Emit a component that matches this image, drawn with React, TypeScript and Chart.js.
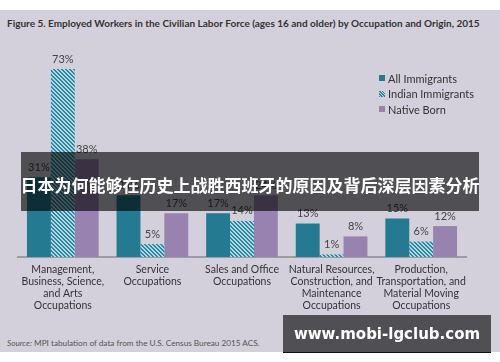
import React, { useEffect, useRef } from "react";
import { Chart, registerables } from "chart.js";

Chart.register(...registerables);

const categories: string[][] = [
  ["Management,", "Business, Science,", "and Arts", "Occupations"],
  ["Service", "Occupations"],
  ["Sales and Office", "Occupations"],
  ["Natural Resources,", "Construction, and", "Maintenance", "Occupations"],
  ["Production,", "Transportation, and", "Material Moving", "Occupations"],
];
const allImmigrants = [31, 24, 17, 13, 15];
const indianImmigrants = [73, 5, 14, 1, 6];
const nativeBorn = [38, 17, 24, 8, 12];
const seriesNames = ["All Immigrants", "Indian Immigrants", "Native Born"];

const TEAL = "#237a91";
const PURPLE = "#9883b0";
const HATCH_DARK = "#2f87a0";
const HATCH_LIGHT = "#b0d8e2";
const BG = "#d3d0dc";
const FONT = "Lato, 'Open Sans', sans-serif";

function makePattern(ctx: CanvasRenderingContext2D): CanvasPattern | string {
  const c = document.createElement("canvas");
  c.width = 4;
  c.height = 4;
  const p = c.getContext("2d");
  if (!p) return HATCH_DARK;
  p.fillStyle = HATCH_LIGHT;
  p.fillRect(0, 0, 4, 4);
  p.fillStyle = HATCH_DARK;
  for (let i = 0; i < 4; i++) {
    p.fillRect(i, i, 1, 1);
    p.fillRect((i + 1) % 4, i, 1, 1);
  }
  return ctx.createPattern(c, "repeat") || HATCH_DARK;
}

const valueLabels = {
  id: "valueLabels",
  afterDatasetsDraw(chart: any) {
    const ctx = chart.ctx;
    ctx.save();
    ctx.font = `11px ${FONT}`;
    ctx.fillStyle = "#444";
    ctx.textAlign = "center";
    ctx.textBaseline = "middle";
    chart.data.datasets.forEach((ds: any, di: number) => {
      const meta = chart.getDatasetMeta(di);
      meta.data.forEach((el: any, i: number) => {
        ctx.fillText(`${ds.data[i]}%`, el.x, el.y - 10);
      });
    });
    ctx.restore();
  },
};

export default function App() {
  const ref = useRef<HTMLCanvasElement>(null);
  useEffect(() => {
    if (!ref.current) return;
    const ctx = ref.current.getContext("2d")!;
    const pattern = makePattern(ctx);
    const chart = new Chart(ref.current, {
      type: "bar",
      data: {
        labels: categories,
        datasets: [
          { label: seriesNames[0], data: allImmigrants, backgroundColor: TEAL },
          { label: seriesNames[1], data: indianImmigrants, backgroundColor: pattern as any },
          { label: seriesNames[2], data: nativeBorn, backgroundColor: PURPLE },
        ],
      },
      options: {
        animation: false,
        responsive: false,
        maintainAspectRatio: false,
        layout: { padding: { left: 18, right: 34, top: 11, bottom: 0 } },
        datasets: { bar: { categoryPercentage: 0.8, barPercentage: 1.0 } },
        plugins: { legend: { display: false }, tooltip: { enabled: false } },
        scales: {
          y: { display: false, min: 0, max: 80 },
          x: {
            grid: { display: false, drawTicks: false },
            border: { display: true, color: "#9e9ca3", width: 2 },
            afterFit: (s: any) => {
              s.height = 73;
            },
            ticks: {
              color: "#333",
              padding: 6,
              maxRotation: 0,
              autoSkip: false,
              font: { family: FONT, size: 10.5, lineHeight: 1.17 },
            },
          },
        },
      },
      plugins: [valueLabels],
    });
    return () => chart.destroy();
  }, []);

  const legendItems = [
    { name: seriesNames[0], bg: TEAL },
    {
      name: seriesNames[1],
      bg: `repeating-linear-gradient(45deg, ${HATCH_DARK} 0 1px, ${HATCH_LIGHT} 1px 2px)`,
    },
    { name: seriesNames[2], bg: PURPLE },
  ];

  return (
    <div
      style={{
        position: "fixed",
        left: 0,
        top: 0,
        width: 500,
        height: 362,
        background: "#fff",
        overflow: "hidden",
        fontFamily: FONT,
      }}
    >
      <div style={{ position: "absolute", left: 0, top: 10, width: 500, height: 342, background: BG }} />
      <div
        style={{
          position: "absolute",
          left: 7,
          top: 17,
          fontSize: 10,
          fontWeight: 700,
          color: "#333",
          whiteSpace: "nowrap",
        }}
      >
        Figure 5. Employed Workers in the Civilian Labor Force (ages 16 and older) by Occupation and Origin, 2015
      </div>
      <canvas ref={ref} width={500} height={290} style={{ position: "absolute", left: 0, top: 40, width: 500, height: 290 }} />
      {legendItems.map((it, i) => (
        <div
          key={it.name}
          style={{
            position: "absolute",
            left: 379,
            top: 71 + i * 15.5,
            height: 14,
            display: "flex",
            alignItems: "center",
            fontSize: 11,
            color: "#333",
            whiteSpace: "nowrap",
          }}
        >
          <span style={{ display: "inline-block", width: 6, height: 6, background: it.bg, marginRight: 3 }} />
          {it.name}
        </div>
      ))}
      <div
        style={{
          position: "absolute",
          left: 7,
          top: 338,
          fontSize: 8.2,
          color: "#555",
          whiteSpace: "nowrap",
        }}
      >
        <i>Source:</i> MPI tabulation of data from the U.S. Census Bureau 2015 ACS.
      </div>
      <div
        style={{
          position: "absolute",
          left: 21,
          top: 152,
          width: 458,
          height: 59,
          background: "rgba(0,0,0,0.62)",
          display: "flex",
          alignItems: "center",
          justifyContent: "center",
          paddingTop: 6,
          boxSizing: "border-box",
          color: "#fff",
          fontFamily: "'Noto Sans CJK SC', sans-serif",
          fontWeight: 700,
          fontSize: 17,
          whiteSpace: "nowrap",
        }}
      >
        日本为何能够在历史上战胜西班牙的原因及背后深层因素分析
      </div>
      <div
        style={{
          position: "absolute",
          left: 283,
          top: 315,
          width: 208,
          height: 38,
          background: "rgba(0,0,0,0.62)",
          borderBottom: "1px solid #111",
          boxSizing: "border-box",
          display: "flex",
          alignItems: "center",
          justifyContent: "center",
          color: "#fff",
          fontFamily: "'DejaVu Sans', sans-serif",
          fontWeight: 700,
          fontSize: 15,
          whiteSpace: "nowrap",
        }}
      >
        www.mobi-lgclub.com
      </div>
    </div>
  );
}
